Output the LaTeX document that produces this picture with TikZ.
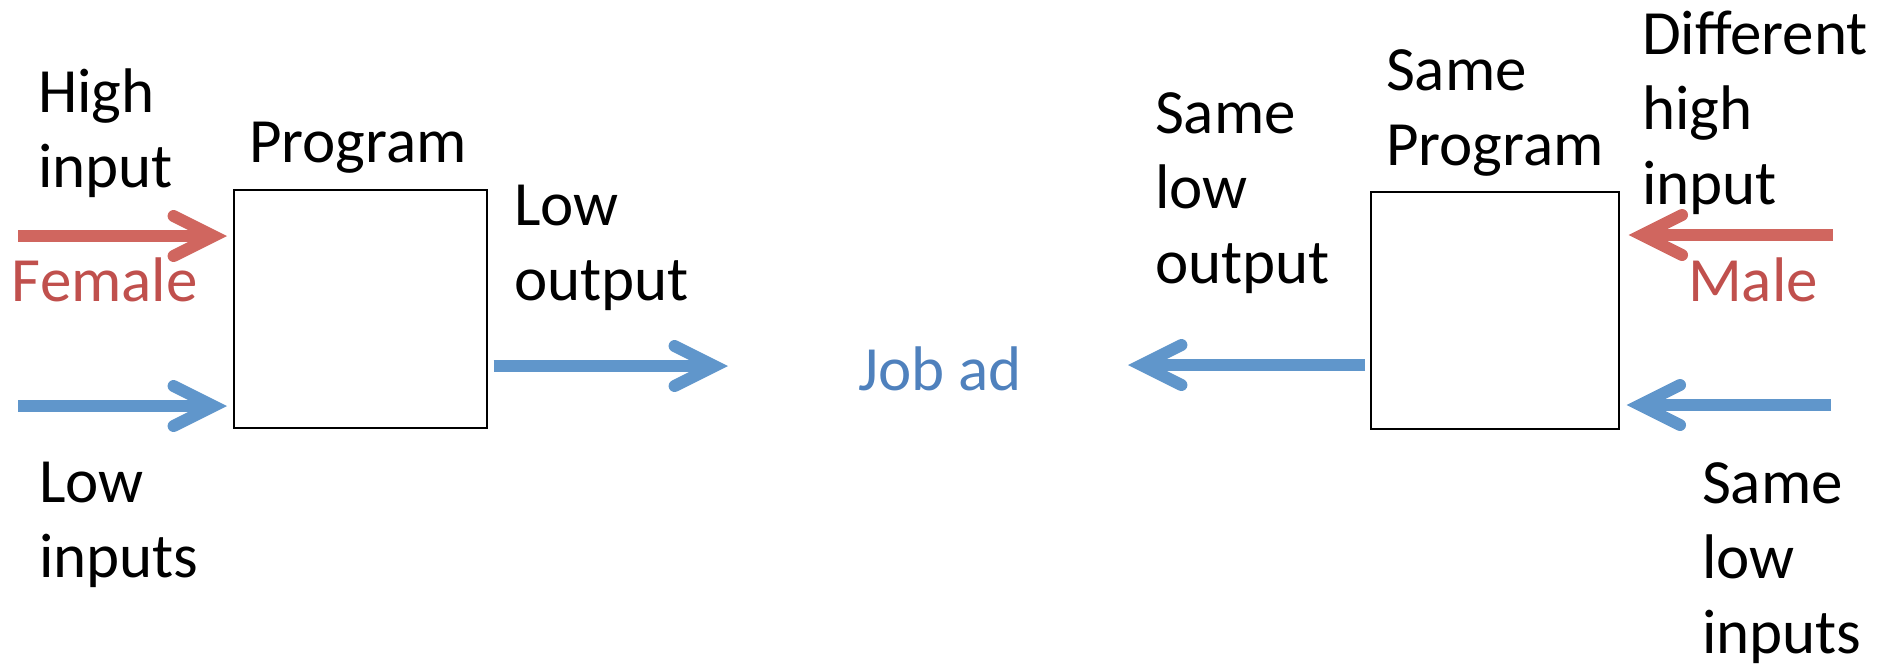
\documentclass[tikz,border=0pt]{standalone}
\usepackage{fontspec}
\setmainfont{Carlito}
\usetikzlibrary{arrows.meta}
\definecolor{txtred}{HTML}{C0504D}
\definecolor{txtblue}{HTML}{4F81BD}
\definecolor{arrred}{HTML}{D0665F}
\definecolor{arrblue}{HTML}{6096CB}
\tikzset{
  % labels are placed by the baseline of their last line
  lbl/.style={anchor=base west, inner sep=0pt, outer sep=0pt, align=left,
    font=\fontsize{63}{75}\selectfont},
  progbox/.style={draw=black, line width=1.6pt, inner sep=0pt},
  fat/.style={line width=12pt,
    -{Straight Barb[length=40pt, width=40pt, line cap=round, line join=miter]}},
  redarrow/.style={fat, draw=arrred},
  bluearrow/.style={fat, draw=arrblue},
}
\begin{document}
\begin{tikzpicture}[x=1pt, y=-1pt]
\useasboundingbox (0,0) rectangle (1880,665);

% the two program boxes
\node[progbox, minimum width=253pt, minimum height=238pt, anchor=north west] (pl) at (233,189) {};
\node[progbox, minimum width=248pt, minimum height=237pt, anchor=north west] (pr) at (1370,191) {};

% labels, left half
\node[lbl] (hi) at (38,187) {High\\input};
\node[lbl, text=txtred] (fem) at (12,301) {Female};
\node[lbl] (lowin) at (39,577) {Low\\inputs};
\node[lbl] (prog) at (249,162) {Program};
\node[lbl] (lowout) at (514,300) {Low\\output};
\node[lbl, text=txtblue] (job) at (858,390) {Job ad};

% labels, right half
\node[lbl] (samelow) at (1155,283) {Same\\low\\output};
\node[lbl] (sprog) at (1386,165) {Same\\Program};
\node[lbl] (diff) at (1642,204) {Different\\high\\input};
\node[lbl, text=txtred] (male) at (1688,301) {Male};
\node[lbl] (samein) at (1702,653) {Same\\low\\inputs};

% arrow tails
\coordinate (fs) at (18,236);
\coordinate (ls) at (18,406);
\coordinate (ms) at (1833,235);
\coordinate (rs) at (1831,405);
\coordinate (outL) at (728,366);
\coordinate (outR) at (1128,365);

% connectors
\draw[redarrow, shorten >=6pt] (fs) -- (fs -| pl.west);
\draw[bluearrow, shorten >=6pt] (ls) -- (ls -| pl.west);
\draw[bluearrow, shorten <=6pt] (outL -| pl.east) -- (outL);
\draw[bluearrow, shorten <=5pt] (outR -| pr.west) -- (outR);
\draw[redarrow, shorten >=9pt] (ms) -- (ms -| pr.east);
\draw[bluearrow, shorten >=7pt] (rs) -- (rs -| pr.east);
\end{tikzpicture}
\end{document}
